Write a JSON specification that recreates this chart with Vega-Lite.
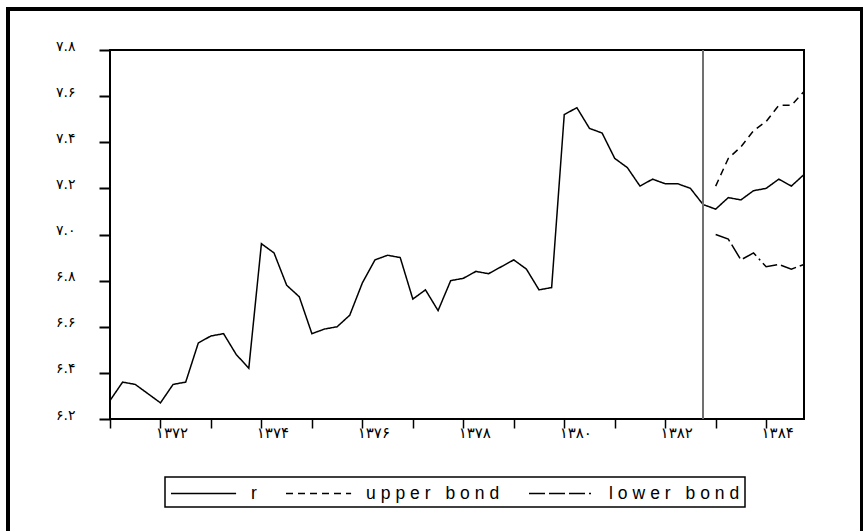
{
  "$schema": "https://vega.github.io/schema/vega-lite/v6.json",
  "autosize": "none",
  "width": 694,
  "height": 369,
  "padding": {"left": 110, "top": 50, "right": 59, "bottom": 112},
  "background": "white",
  "data": {
    "values": [
      {"t": 1371.00, "s": "r", "v": 6.28}, {"t": 1371.25, "s": "r", "v": 6.36}, {"t": 1371.50, "s": "r", "v": 6.35}, {"t": 1371.75, "s": "r", "v": 6.31},
      {"t": 1372.00, "s": "r", "v": 6.27}, {"t": 1372.25, "s": "r", "v": 6.35}, {"t": 1372.50, "s": "r", "v": 6.36}, {"t": 1372.75, "s": "r", "v": 6.53},
      {"t": 1373.00, "s": "r", "v": 6.56}, {"t": 1373.25, "s": "r", "v": 6.57}, {"t": 1373.50, "s": "r", "v": 6.48}, {"t": 1373.75, "s": "r", "v": 6.42},
      {"t": 1374.00, "s": "r", "v": 6.96}, {"t": 1374.25, "s": "r", "v": 6.92}, {"t": 1374.50, "s": "r", "v": 6.78}, {"t": 1374.75, "s": "r", "v": 6.73},
      {"t": 1375.00, "s": "r", "v": 6.57}, {"t": 1375.25, "s": "r", "v": 6.59}, {"t": 1375.50, "s": "r", "v": 6.60}, {"t": 1375.75, "s": "r", "v": 6.65},
      {"t": 1376.00, "s": "r", "v": 6.79}, {"t": 1376.25, "s": "r", "v": 6.89}, {"t": 1376.50, "s": "r", "v": 6.91}, {"t": 1376.75, "s": "r", "v": 6.90},
      {"t": 1377.00, "s": "r", "v": 6.72}, {"t": 1377.25, "s": "r", "v": 6.76}, {"t": 1377.50, "s": "r", "v": 6.67}, {"t": 1377.75, "s": "r", "v": 6.80},
      {"t": 1378.00, "s": "r", "v": 6.81}, {"t": 1378.25, "s": "r", "v": 6.84}, {"t": 1378.50, "s": "r", "v": 6.83}, {"t": 1378.75, "s": "r", "v": 6.86},
      {"t": 1379.00, "s": "r", "v": 6.89}, {"t": 1379.25, "s": "r", "v": 6.85}, {"t": 1379.50, "s": "r", "v": 6.76}, {"t": 1379.75, "s": "r", "v": 6.77},
      {"t": 1380.00, "s": "r", "v": 7.52}, {"t": 1380.25, "s": "r", "v": 7.55}, {"t": 1380.50, "s": "r", "v": 7.46}, {"t": 1380.75, "s": "r", "v": 7.44},
      {"t": 1381.00, "s": "r", "v": 7.33}, {"t": 1381.25, "s": "r", "v": 7.29}, {"t": 1381.50, "s": "r", "v": 7.21}, {"t": 1381.75, "s": "r", "v": 7.24},
      {"t": 1382.00, "s": "r", "v": 7.22}, {"t": 1382.25, "s": "r", "v": 7.22}, {"t": 1382.50, "s": "r", "v": 7.20}, {"t": 1382.75, "s": "r", "v": 7.13},
      {"t": 1383.00, "s": "r", "v": 7.11}, {"t": 1383.25, "s": "r", "v": 7.16}, {"t": 1383.50, "s": "r", "v": 7.15}, {"t": 1383.75, "s": "r", "v": 7.19},
      {"t": 1384.00, "s": "r", "v": 7.20}, {"t": 1384.25, "s": "r", "v": 7.24}, {"t": 1384.50, "s": "r", "v": 7.21}, {"t": 1384.75, "s": "r", "v": 7.26},
      {"t": 1383.00, "s": "upper bond", "v": 7.21}, {"t": 1383.25, "s": "upper bond", "v": 7.33}, {"t": 1383.50, "s": "upper bond", "v": 7.38}, {"t": 1383.75, "s": "upper bond", "v": 7.45},
      {"t": 1384.00, "s": "upper bond", "v": 7.49}, {"t": 1384.25, "s": "upper bond", "v": 7.56}, {"t": 1384.50, "s": "upper bond", "v": 7.56}, {"t": 1384.75, "s": "upper bond", "v": 7.62},
      {"t": 1383.00, "s": "lower bond", "v": 7.00}, {"t": 1383.25, "s": "lower bond", "v": 6.98}, {"t": 1383.50, "s": "lower bond", "v": 6.89}, {"t": 1383.75, "s": "lower bond", "v": 6.92},
      {"t": 1384.00, "s": "lower bond", "v": 6.86}, {"t": 1384.25, "s": "lower bond", "v": 6.87}, {"t": 1384.50, "s": "lower bond", "v": 6.85}, {"t": 1384.75, "s": "lower bond", "v": 6.87}
    ]
  },
  "layer": [
    {
      "mark": {"type": "line", "color": "black", "strokeWidth": 1.5, "strokeCap": "butt", "strokeJoin": "miter"},
      "encoding": {
        "x": {
          "field": "t", "type": "quantitative", "title": null,
          "scale": {"domain": [1371, 1384.75], "nice": false, "zero": false},
          "axis": {
            "values": [1371, 1371.25, 1371.5, 1371.75, 1372, 1372.25, 1372.5, 1372.75, 1373, 1373.25, 1373.5, 1373.75, 1374, 1374.25, 1374.5, 1374.75, 1375, 1375.25, 1375.5, 1375.75, 1376, 1376.25, 1376.5, 1376.75, 1377, 1377.25, 1377.5, 1377.75, 1378, 1378.25, 1378.5, 1378.75, 1379, 1379.25, 1379.5, 1379.75, 1380, 1380.25, 1380.5, 1380.75, 1381, 1381.25, 1381.5, 1381.75, 1382, 1382.25, 1382.5, 1382.75, 1383, 1383.25, 1383.5, 1383.75, 1384, 1384.25, 1384.5, 1384.75],
            "domain": false,
            "tickColor": "black",
            "tickWidth": 1.5,
            "tickSize": {"condition": {"test": "datum.value % 1 === 0", "value": 9}, "value": 5},
            "labelExpr": "datum.value % 2 === 0 ? replace(replace(replace(replace(replace(replace(replace(replace(replace(replace(format(datum.value, 'd'), regexp('0','g'), '۰'), regexp('1','g'), '۱'), regexp('2','g'), '۲'), regexp('3','g'), '۳'), regexp('4','g'), '۴'), regexp('5','g'), '۵'), regexp('6','g'), '۶'), regexp('7','g'), '۷'), regexp('8','g'), '۸'), regexp('9','g'), '۹') : ''",
            "labelFont": "DejaVu Sans",
            "labelFontSize": 15,
            "labelColor": "black",
            "labelOffset": 11,
            "labelPadding": -3,
            "labelOverlap": false,
            "labelFlush": false
          }
        },
        "y": {
          "field": "v", "type": "quantitative", "title": null,
          "scale": {"domain": [6.2, 7.8], "nice": false, "zero": false},
          "axis": {
            "values": [6.2, 6.4, 6.6, 6.8, 7.0, 7.2, 7.4, 7.6, 7.8],
            "domain": false,
            "tickColor": "black",
            "tickWidth": 2,
            "tickSize": 11,
            "labelPadding": 24,
            "labelBaseline": "alphabetic",
            "labelExpr": "replace(replace(replace(replace(replace(replace(replace(replace(replace(replace(format(datum.value, '.1f'), regexp('0','g'), '۰'), regexp('1','g'), '۱'), regexp('2','g'), '۲'), regexp('3','g'), '۳'), regexp('4','g'), '۴'), regexp('5','g'), '۵'), regexp('6','g'), '۶'), regexp('7','g'), '۷'), regexp('8','g'), '۸'), regexp('9','g'), '۹')",
            "labelFont": "DejaVu Sans",
            "labelFontSize": 14,
            "labelColor": "black",
            "labelOverlap": false,
            "labelFlush": false
          }
        },
        "strokeDash": {
          "field": "s", "type": "nominal", "title": null,
          "scale": {"domain": ["r", "upper bond", "lower bond"], "range": [[1, 0], [7, 5], [16, 4, 16, 4, 16, 4, 2, 4]]},
          "legend": {
            "orient": "none",
            "direction": "horizontal",
            "legendX": 55,
            "legendY": 427,
            "labelExpr": "join(split(datum.label, ''), '\u2009\u200a')"
          }
        }
      }
    },
    {
      "mark": {"type": "rule", "color": "#707070", "strokeWidth": 1.2},
      "encoding": {
        "x": {"datum": 1382.75, "type": "quantitative", "title": null, "scale": {"domain": [1371, 1384.75], "nice": false, "zero": false}}
      }
    },
    {
      "mark": {"type": "rect", "fill": null, "filled": false, "stroke": "black", "strokeWidth": 2.5, "clip": false},
      "encoding": {
        "x": {"datum": 1368.976, "type": "quantitative", "title": null, "scale": {"domain": [1371, 1384.75], "nice": false, "zero": false}},
        "x2": {"datum": 1385.9},
        "y": {"datum": 7.978, "type": "quantitative", "title": null, "scale": {"domain": [6.2, 7.8], "nice": false, "zero": false}},
        "y2": {"datum": 5.589}
      }
    }
  ],
  "config": {
    "view": {"stroke": "black", "strokeWidth": 2},
    "axis": {"grid": false},
    "legend": {
      "strokeColor": "black",
      "strokeWidth": 1.5,
      "padding": 5,
      "labelFont": "Liberation Sans",
      "labelFontSize": 17.5,
      "labelColor": "black",
      "symbolType": "M-1,0H5.2",
      "symbolSize": 441,
      "symbolStrokeWidth": 1.5,
      "symbolStrokeColor": "black",
      "symbolFillColor": "transparent",
      "columnPadding": 26,
      "labelOffset": 58,
      "labelLimit": 300
    }
  }
}
